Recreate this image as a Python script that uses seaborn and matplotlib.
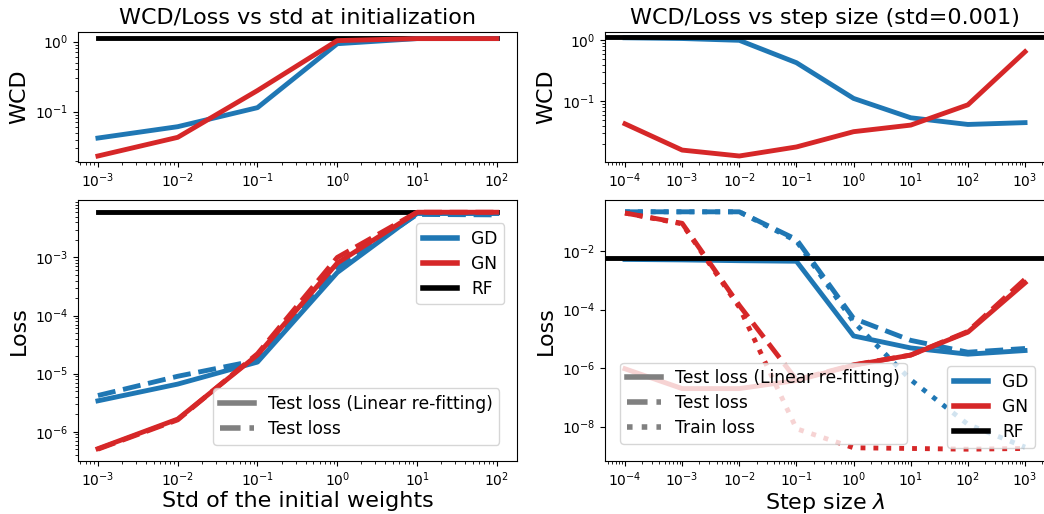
import numpy as np
import pandas as pd
import seaborn as sns
import matplotlib.pyplot as plt
from matplotlib.lines import Line2D
from matplotlib.ticker import LogLocator, NullLocator

# init std sweep
std = [1e-3, 1e-2, 1e-1, 1e0, 1e1, 1e2]
wcd_gd_std = [0.042, 0.061, 0.114, 0.93, 1.1, 1.1]
wcd_gn_std = [0.0233, 0.043, 0.2, 1.03, 1.1, 1.1]
wcd_rf_std = [1.13] * 6
loss_gd_refit_std = [3.4e-6, 6.6e-6, 1.58e-5, 5.5e-4, 5.7e-3, 5.7e-3]
loss_gd_test_std = [4.2e-6, 9e-6, 1.7e-5, 6.5e-4, 5.5e-3, 5.4e-3]
loss_gn_refit_std = [5.1e-7, 1.65e-6, 2.1e-5, 8e-4, 6e-3, 6e-3]
loss_gn_test_std = [5e-7, 1.6e-6, 2.2e-5, 1e-3, 6e-3, 6e-3]
loss_rf_std = [6.1e-3] * 6

# step size sweep
lam = [1e-4, 1e-3, 1e-2, 1e-1, 1e0, 1e1, 1e2, 1e3]
wcd_gd_lam = [1.1, 1.07, 1.0, 0.43, 0.112, 0.054, 0.042, 0.045]
wcd_gn_lam = [0.043, 0.016, 0.0128, 0.018, 0.032, 0.041, 0.088, 0.65]
wcd_rf_lam = 1.13
loss_gd_refit_lam = [5.2e-3, 5e-3, 4.7e-3, 4.5e-3, 1.26e-5, 4.9e-6, 3e-6, 4e-6]
loss_gd_test_lam = [0.22, 0.22, 0.22, 0.025, 5e-5, 8.9e-6, 3.5e-6, 4.7e-6]
loss_gd_train_lam = [0.22, 0.22, 0.22, 0.022, 3.8e-5, 4e-7, 1.2e-8, 2e-9]
loss_gn_refit_lam = [9.5e-7, 2e-7, 2e-7, 3.8e-7, 1.26e-6, 2.8e-6, 1.7e-5, 8.2e-4]
loss_gn_test_lam = [0.2, 0.089, 1.4e-4, 4e-7, 1.3e-6, 2.8e-6, 1.8e-5, 1.1e-3]
loss_gn_train_lam = [0.2, 0.085, 1.2e-4, 8.5e-9, 1.9e-9, 1.8e-9, 1.7e-9, 1.8e-9]
loss_rf_lam = 6e-3

blue = '#1f77b4'
red = '#d62728'
lw = 3.5
fs_big = 16
fs_leg = 12.3

fig = plt.figure(figsize=(10.44, 5.14), dpi=100)
ax1 = fig.add_axes([0.0747, 0.685, 0.4203, 0.253])
ax2 = fig.add_axes([0.0747, 0.103, 0.4203, 0.508])
ax3 = fig.add_axes([0.5795, 0.685, 0.4215, 0.253])
ax4 = fig.add_axes([0.5795, 0.103, 0.4215, 0.508])

for ax in [ax1, ax2, ax3, ax4]:
    ax.set_xscale('log')
    ax.set_yscale('log')

# top left
sns.lineplot(x=std, y=wcd_rf_std, ax=ax1, color='black', lw=lw)
sns.lineplot(x=std, y=wcd_gd_std, ax=ax1, color=blue, lw=lw)
sns.lineplot(x=std, y=wcd_gn_std, ax=ax1, color=red, lw=lw)
ax1.set_ylabel('WCD', fontsize=fs_big)
ax1.set_title('WCD/Loss vs std at initialization', fontsize=fs_big)

# bottom left
sns.lineplot(x=std, y=loss_rf_std, ax=ax2, color='black', lw=lw)
sns.lineplot(x=std, y=loss_gd_refit_std, ax=ax2, color=blue, lw=lw)
sns.lineplot(x=std, y=loss_gd_test_std, ax=ax2, color=blue, lw=lw, linestyle='--')
sns.lineplot(x=std, y=loss_gn_refit_std, ax=ax2, color=red, lw=lw)
sns.lineplot(x=std, y=loss_gn_test_std, ax=ax2, color=red, lw=lw, linestyle='--')
ax2.set_ylabel('Loss', fontsize=fs_big)
ax2.set_xlabel('Std of the initial weights', fontsize=fs_big, labelpad=1)

# top right
sns.lineplot(x=lam, y=wcd_gd_lam, ax=ax3, color=blue, lw=lw)
sns.lineplot(x=lam, y=wcd_gn_lam, ax=ax3, color=red, lw=lw)
ax3.axhline(wcd_rf_lam, color='black', lw=lw)
ax3.set_ylabel('WCD', fontsize=fs_big)
ax3.set_title('WCD/Loss vs step size (std=0.001)', fontsize=fs_big)

# bottom right
sns.lineplot(x=lam, y=loss_gd_refit_lam, ax=ax4, color=blue, lw=lw)
sns.lineplot(x=lam, y=loss_gd_test_lam, ax=ax4, color=blue, lw=lw, linestyle='--')
sns.lineplot(x=lam, y=loss_gd_train_lam, ax=ax4, color=blue, lw=lw, linestyle=':')
sns.lineplot(x=lam, y=loss_gn_refit_lam, ax=ax4, color=red, lw=lw)
sns.lineplot(x=lam, y=loss_gn_test_lam, ax=ax4, color=red, lw=lw, linestyle='--')
sns.lineplot(x=lam, y=loss_gn_train_lam, ax=ax4, color=red, lw=lw, linestyle=':')
ax4.axhline(loss_rf_lam, color='black', lw=lw)
ax4.set_ylabel('Loss', fontsize=fs_big)
ax4.set_xlabel('Step size $\\lambda$', fontsize=fs_big, labelpad=1)
ax4.yaxis.set_major_locator(LogLocator(base=100))
ax4.yaxis.set_minor_locator(NullLocator())

method_handles = [Line2D([], [], color=blue, lw=4),
                  Line2D([], [], color=red, lw=4),
                  Line2D([], [], color='black', lw=4)]
method_labels = ['GD', 'GN', 'RF']
style_handles = [Line2D([], [], color='gray', lw=4),
                 Line2D([], [], color='gray', lw=4, linestyle='--'),
                 Line2D([], [], color='gray', lw=4, linestyle=':')]
style_labels = ['Test loss (Linear re-fitting)', 'Test loss', 'Train loss']

leg = ax2.legend(method_handles, method_labels, loc='upper right',
                 bbox_to_anchor=(0.991, 0.944), fontsize=fs_leg, labelspacing=0.4)
ax2.add_artist(leg)
ax2.legend(style_handles[:2], style_labels[:2], loc='lower right',
           bbox_to_anchor=(0.98, 0.03), fontsize=fs_leg, labelspacing=0.4)

leg = ax4.legend(method_handles, method_labels, loc='lower right',
                 bbox_to_anchor=(0.997, 0.018), fontsize=fs_leg, labelspacing=0.4)
ax4.add_artist(leg)
ax4.legend(style_handles, style_labels, loc='lower left',
           bbox_to_anchor=(0.015, 0.033), fontsize=fs_leg, labelspacing=0.4)

plt.savefig('out.png', dpi=100)
